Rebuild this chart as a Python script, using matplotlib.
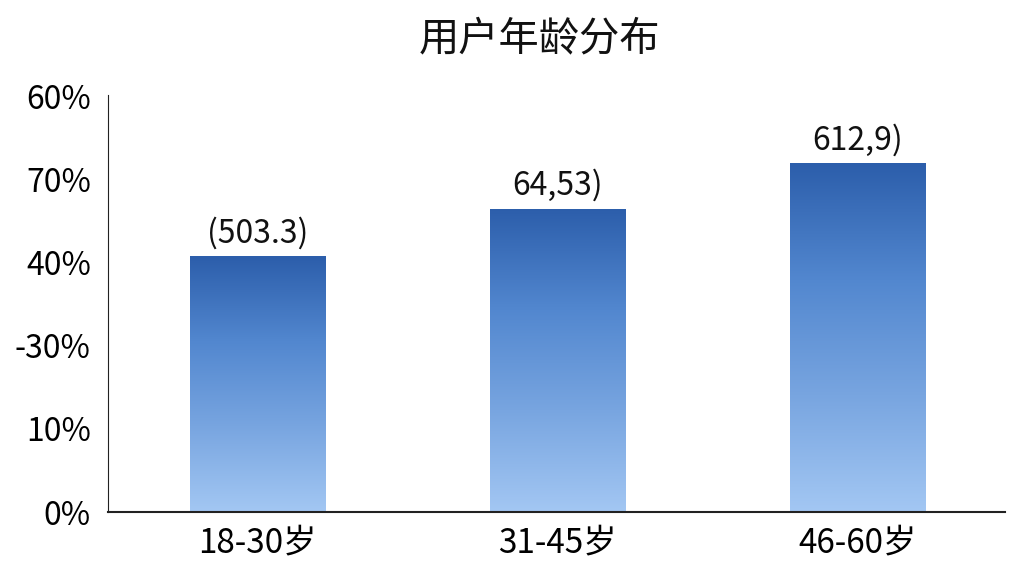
import numpy as np
import matplotlib.pyplot as plt
from matplotlib.colors import LinearSegmentedColormap

plt.rcParams['font.family'] = ['Noto Sans CJK SC', 'DejaVu Sans']

# data
ageGroups = ["18-30岁", "31-45岁", "46-60岁"]
shares = [30.8, 36.5, 42.0]
barLabels = ["(503.3)", "64,53)", "612,9)"]
tickValues = [0, 10, 20, 30, 40, 50]
tickLabels = ["0%", "10%", "-30%", "40%", "70%", "60%"]

fig = plt.figure(figsize=(10.24, 5.76), dpi=100)
ax = fig.add_axes([0.105, 0.111, 0.876, 0.724])

x = np.arange(len(ageGroups))
barWidth = 0.45
bars = ax.bar(x, shares, width=barWidth, color="none", edgecolor="none")

# vertical gradient in each bar: dark on top, light at the bottom
blues = LinearSegmentedColormap.from_list("blues", ["#a3c7f3", "#78a5e0", "#5287cf", "#2c5eab"])
grad = np.linspace(0, 1, 256).reshape(-1, 1)
for bar in bars:
    x0 = bar.get_x()
    h = bar.get_height()
    img = ax.imshow(grad, cmap=blues, aspect="auto", origin="lower",
                    extent=[x0, x0 + barWidth, 0, h], zorder=2)
    img.set_clip_path(bar)

for i, bar in enumerate(bars):
    ax.annotate(barLabels[i], (bar.get_x() + barWidth / 2, bar.get_height()),
                xytext=(0, 5), textcoords="offset points",
                ha="center", va="bottom", fontsize=23, color="#111111")

ax.set_xlim(-0.5, 2.49)
ax.set_ylim(0, 50.2)
ax.set_xticks(x)
ax.set_xticklabels(ageGroups, fontsize=24)
ax.set_yticks(tickValues)
ax.set_yticklabels(tickLabels, fontsize=23)
ax.tick_params(axis="y", length=0, pad=12)
ax.tick_params(axis="x", length=0, pad=10)

ax.spines["top"].set_visible(False)
ax.spines["right"].set_visible(False)
ax.spines["left"].set_color("#222222")
ax.spines["bottom"].set_color("#222222")
ax.spines["bottom"].set_linewidth(1.5)

fig.text(0.527, 0.932, "用户年龄分布", fontsize=29, ha="center", va="center", color="#111111")

fig.savefig("out.png", dpi=100)
